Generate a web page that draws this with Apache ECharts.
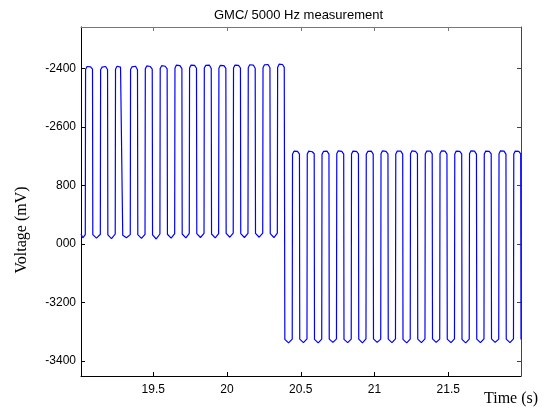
<!DOCTYPE html>
<html>
<head>
<meta charset="utf-8">
<title>GMC/ 5000 Hz measurement</title>
<script src="https://cdn.jsdelivr.net/npm/echarts@6/dist/echarts.min.js"></script>
<style>
  html, body { margin: 0; padding: 0; background: #fff; }
  #chart { width: 551px; height: 410px; }
</style>
</head>
<body>
<div id="chart"></div>
<script>
// tick positions and the text printed at them (labels as they appear in the figure)
var xTickValues = [19.5, 20, 20.5, 21, 21.5]
var xTickLabels = ['19.5', '20', '20.5', '21', '21.5']
var yTickValues = [-3400, -3200, -3000, -2800, -2600, -2400]
var yTickLabels = ['-3400', '-3200', '000', '800', '-2600', '-2400']

// [time (s), voltage (mV)], before the level change
var firstBurst = [
  [19.010, -2966], [19.022, -2979],
  [19.039, -2968], [19.041, -2404], [19.051, -2394], [19.075, -2395], [19.088, -2403], [19.090, -2968], [19.115, -2980],
  [19.141, -2967], [19.143, -2405], [19.153, -2396], [19.177, -2394], [19.190, -2404], [19.192, -2969], [19.217, -2982],
  [19.242, -2966], [19.244, -2403], [19.254, -2393], [19.278, -2396], [19.291, -2402], [19.293, -2970], [19.318, -2979],
  [19.344, -2968], [19.346, -2404], [19.356, -2395], [19.380, -2393], [19.393, -2405], [19.395, -2968], [19.420, -2981],
  [19.444, -2967], [19.446, -2402], [19.456, -2392], [19.480, -2394], [19.493, -2403], [19.495, -2969], [19.520, -2983],
  [19.545, -2966], [19.547, -2401], [19.557, -2391], [19.581, -2393], [19.594, -2402], [19.596, -2967], [19.621, -2980],
  [19.645, -2965], [19.647, -2400], [19.657, -2389], [19.681, -2391], [19.694, -2401], [19.696, -2966], [19.721, -2979],
  [19.744, -2964], [19.746, -2399], [19.756, -2389], [19.780, -2390], [19.793, -2400], [19.795, -2965], [19.820, -2978],
  [19.844, -2964], [19.846, -2399], [19.856, -2390], [19.880, -2389], [19.893, -2401], [19.895, -2966], [19.920, -2979],
  [19.943, -2965], [19.945, -2400], [19.955, -2390], [19.979, -2391], [19.992, -2400], [19.994, -2964], [20.019, -2977],
  [20.042, -2963], [20.044, -2399], [20.054, -2389], [20.078, -2390], [20.091, -2399], [20.093, -2965], [20.118, -2978],
  [20.142, -2964], [20.144, -2398], [20.154, -2388], [20.178, -2389], [20.191, -2400], [20.193, -2964], [20.218, -2977],
  [20.242, -2963], [20.244, -2398], [20.254, -2388], [20.278, -2387], [20.291, -2398], [20.293, -2965], [20.318, -2978],
  [20.341, -2963], [20.343, -2397], [20.353, -2386], [20.376, -2387], [20.388, -2397], [20.392, -3326], [20.417, -3338]
]

// after the level change
var secondBurst = [
  [20.442, -3325], [20.444, -2694], [20.454, -2683], [20.478, -2684], [20.491, -2693], [20.493, -3325], [20.518, -3337],
  [20.542, -3324], [20.544, -2693], [20.554, -2683], [20.578, -2685], [20.591, -2692], [20.593, -3326], [20.618, -3338],
  [20.642, -3325], [20.644, -2694], [20.654, -2684], [20.678, -2683], [20.691, -2693], [20.693, -3325], [20.718, -3336],
  [20.742, -3324], [20.744, -2692], [20.754, -2682], [20.778, -2684], [20.791, -2693], [20.793, -3326], [20.818, -3337],
  [20.842, -3325], [20.844, -2693], [20.854, -2683], [20.878, -2684], [20.891, -2692], [20.893, -3325], [20.918, -3338],
  [20.942, -3324], [20.944, -2694], [20.954, -2684], [20.978, -2683], [20.991, -2693], [20.993, -3324], [21.018, -3336],
  [21.042, -3325], [21.044, -2692], [21.054, -2682], [21.078, -2684], [21.091, -2692], [21.093, -3325], [21.118, -3337],
  [21.142, -3324], [21.144, -2693], [21.154, -2683], [21.178, -2683], [21.191, -2693], [21.193, -3326], [21.218, -3338],
  [21.242, -3325], [21.244, -2692], [21.254, -2682], [21.278, -2684], [21.291, -2692], [21.293, -3325], [21.318, -3337],
  [21.342, -3324], [21.344, -2693], [21.354, -2683], [21.378, -2683], [21.391, -2692], [21.393, -3324], [21.418, -3336],
  [21.442, -3325], [21.444, -2692], [21.454, -2682], [21.478, -2683], [21.491, -2693], [21.493, -3325], [21.518, -3337],
  [21.542, -3324], [21.544, -2693], [21.554, -2683], [21.578, -2684], [21.591, -2692], [21.593, -3326], [21.618, -3338],
  [21.642, -3325], [21.644, -2692], [21.654, -2682], [21.678, -2683], [21.691, -2693], [21.693, -3325], [21.718, -3337],
  [21.742, -3324], [21.744, -2693], [21.754, -2683], [21.778, -2684], [21.791, -2692], [21.793, -3324], [21.818, -3336],
  [21.842, -3325], [21.844, -2692], [21.854, -2682], [21.878, -2683], [21.891, -2693], [21.893, -3325], [21.918, -3337],
  [21.942, -3324], [21.944, -2693], [21.954, -2683], [21.978, -2684], [21.991, -2692], [21.993, -3326]
]

var tickFont = { fontFamily: 'Liberation Sans, Arial, sans-serif', fontSize: 12, color: '#000' }
var labelFont = { fontFamily: 'Liberation Serif, Times New Roman, serif', fontSize: 16, color: '#000' }

function labelFor (values, labels) {
  return function (v) {
    var i = values.indexOf(v)
    return i >= 0 ? labels[i] : ''
  }
}

var chart = echarts.init(document.getElementById('chart'), null, { renderer: 'canvas' })

var option = {
  animation: false,
  backgroundColor: '#fff',
  title: {
    text: 'GMC/ 5000 Hz measurement',
    left: 209,
    top: 4,
    textStyle: { fontFamily: 'Liberation Sans, Arial, sans-serif', fontSize: 13, fontWeight: 'normal', color: '#000' }
  },
  grid: {
    left: 81,
    right: 30,
    top: 27,
    bottom: 34,
    containLabel: false
  },
  xAxis: [{
    type: 'value',
    position: 'bottom',
    min: 19.01,
    max: 21.993,
    name: 'Time (s)',
    nameLocation: 'end',
    nameGap: -37,
    nameTextStyle: Object.assign({}, labelFont, { align: 'left', verticalAlign: 'top', padding: [15, 0, 0, 0] }),
    axisLine: { show: true, onZero: false, lineStyle: { color: '#000', width: 1 } },
    axisTick: { show: true, inside: true, length: 4, customValues: xTickValues, lineStyle: { color: '#000' } },
    axisLabel: Object.assign({ show: true, margin: 8, customValues: xTickValues, formatter: labelFor(xTickValues, xTickLabels) }, tickFont),
    splitLine: { show: false }
  }, {
    type: 'value',
    position: 'top',
    min: 19.01,
    max: 21.993,
    axisLine: { show: true, onZero: false, lineStyle: { color: '#777', width: 1 } },
    axisTick: { show: true, inside: true, length: 4, customValues: xTickValues, lineStyle: { color: '#777' } },
    axisLabel: { show: false },
    splitLine: { show: false }
  }],
  yAxis: [{
    type: 'value',
    position: 'left',
    min: -3451,
    max: -2259,
    name: 'Voltage (mV)',
    nameLocation: 'middle',
    nameGap: 51,
    nameRotate: 90,
    nameTextStyle: Object.assign({}, labelFont, { padding: [0, 0, 0, -57] }),
    axisLine: { show: true, onZero: false, lineStyle: { color: '#000', width: 1 } },
    axisTick: { show: true, inside: true, length: 4, customValues: yTickValues, lineStyle: { color: '#000' } },
    axisLabel: Object.assign({ show: true, margin: 5, customValues: yTickValues, formatter: labelFor(yTickValues, yTickLabels) }, tickFont),
    splitLine: { show: false }
  }, {
    type: 'value',
    position: 'right',
    min: -3451,
    max: -2259,
    axisLine: { show: true, onZero: false, lineStyle: { color: '#444', width: 1 } },
    axisTick: { show: true, inside: true, length: 4, customValues: yTickValues, lineStyle: { color: '#444' } },
    axisLabel: { show: false },
    splitLine: { show: false }
  }],
  series: [{
    name: 'voltage',
    type: 'line',
    xAxisIndex: 0,
    yAxisIndex: 0,
    showSymbol: false,
    symbol: 'none',
    clip: true,
    lineStyle: { color: '#0000ff', width: 1.2 },
    data: firstBurst.concat(secondBurst)
  }]
}

chart.setOption(option)
</script>
</body>
</html>
